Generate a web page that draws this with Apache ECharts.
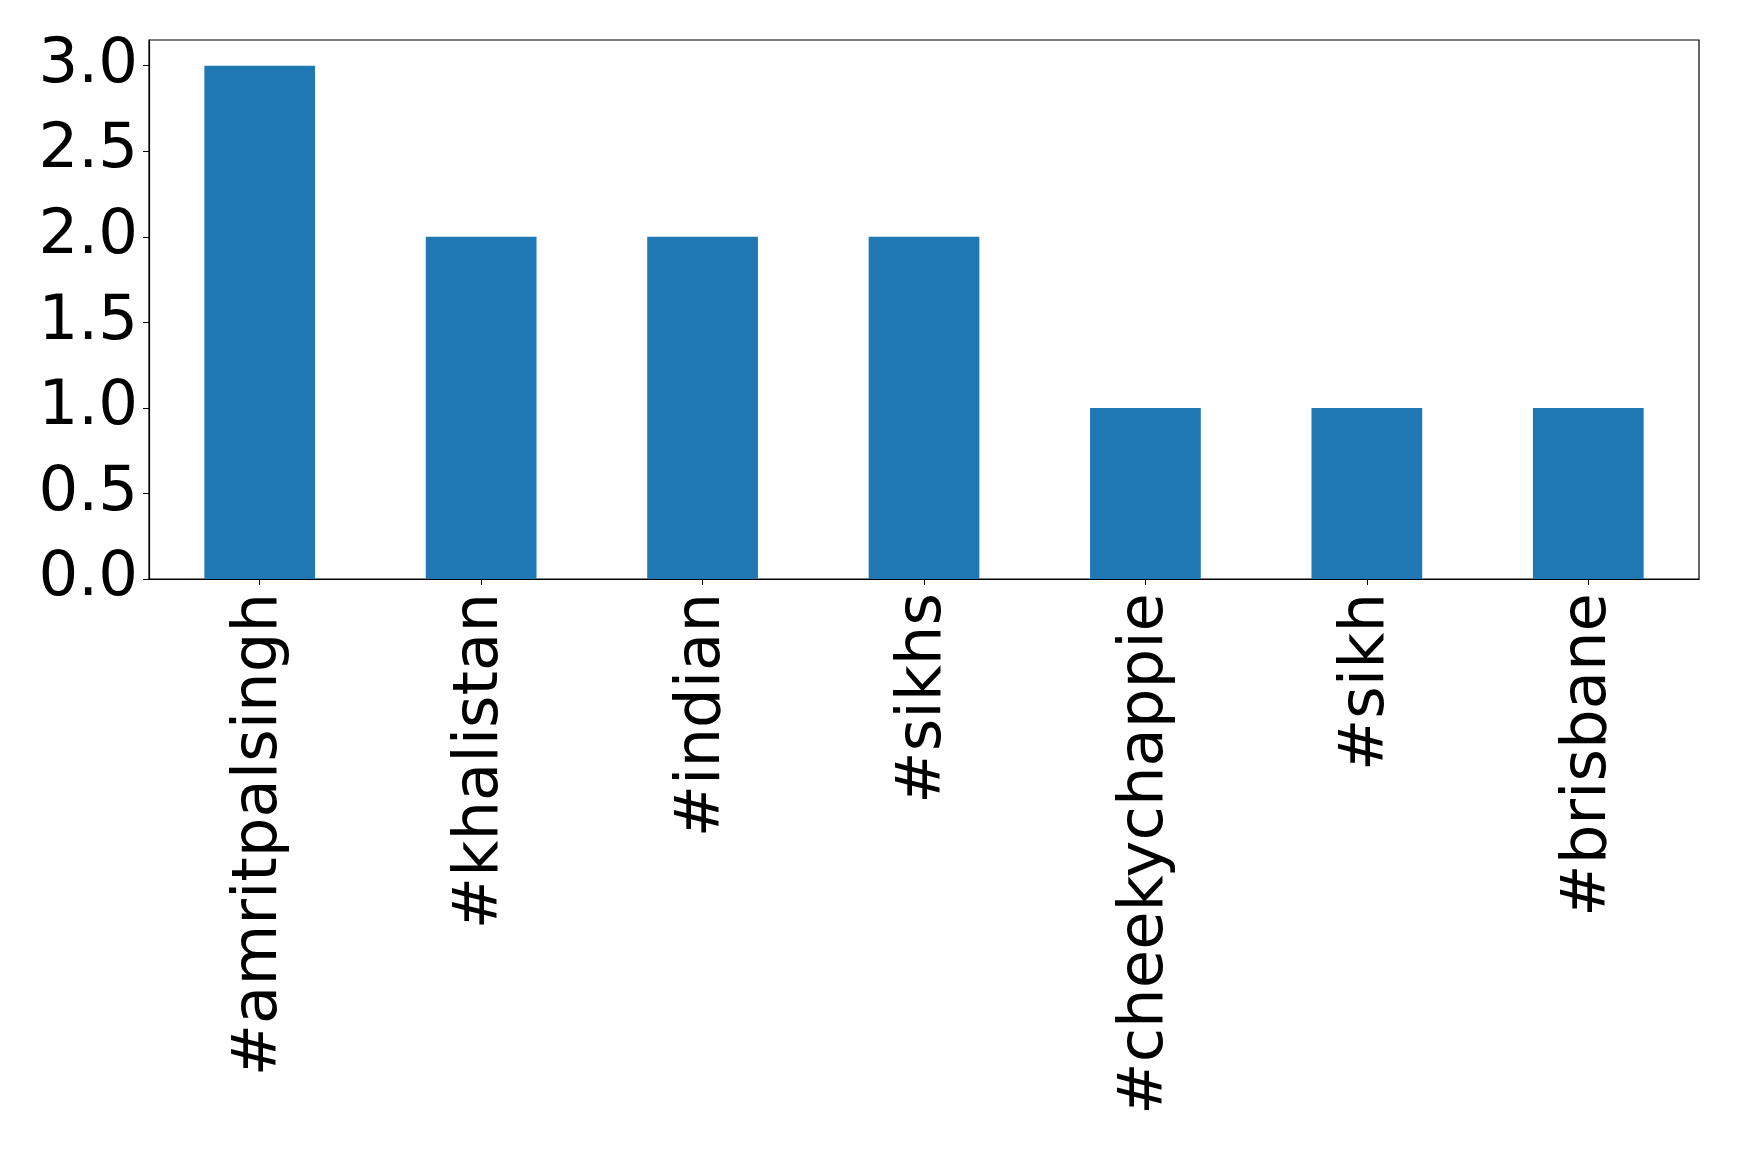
<!DOCTYPE html>
<html>
<head>
<meta charset="utf-8">
<script src="https://cdn.jsdelivr.net/npm/echarts@6/dist/echarts.min.js"></script>
<style>
html,body{margin:0;padding:0;background:#fff;}
#chart{width:1739px;height:1150px;}
</style>
</head>
<body>
<div id="chart"></div>
<script>
const categories = ['#amritpalsingh', '#khalistan', '#indian', '#sikhs', '#cheekychappie', '#sikh', '#brisbane'];
const counts = [3, 2, 2, 2, 1, 1, 1];

const chart = echarts.init(document.getElementById('chart'));
chart.setOption({
  animation: false,
  backgroundColor: '#ffffff',
  grid: {
    left: 149, top: 40, right: 40, bottom: 571,
    show: true, borderColor: '#000', borderWidth: 1.2, backgroundColor: 'transparent'
  },
  xAxis: {
    type: 'category',
    data: categories,
    axisLine: { show: true, lineStyle: { color: '#000', width: 1.2 } },
    axisTick: { show: true, alignWithLabel: true, length: 6, lineStyle: { color: '#000' } },
    axisLabel: {
      rotate: 90, fontSize: 62.5, fontFamily: 'DejaVu Sans', color: '#000', margin: 14,
      padding: [11, 0, 0, 0]
    }
  },
  yAxis: {
    type: 'value',
    min: 0, max: 3.15, interval: 0.5,
    splitLine: { show: false },
    axisLine: { show: true, lineStyle: { color: '#000', width: 1.2 } },
    axisTick: { show: true, length: 6, lineStyle: { color: '#000' } },
    axisLabel: {
      fontSize: 62.5, fontFamily: 'DejaVu Sans', color: '#000', margin: 11,
      showMaxLabel: false,
      formatter: function (v) {
        if (Math.abs(v * 2 - Math.round(v * 2)) > 1e-6) return '';
        return v.toFixed(1);
      }
    }
  },
  series: [{
    type: 'bar',
    data: counts,
    barWidth: '50%',
    itemStyle: { color: '#1f77b4' }
  }]
});
</script>
</body>
</html>
